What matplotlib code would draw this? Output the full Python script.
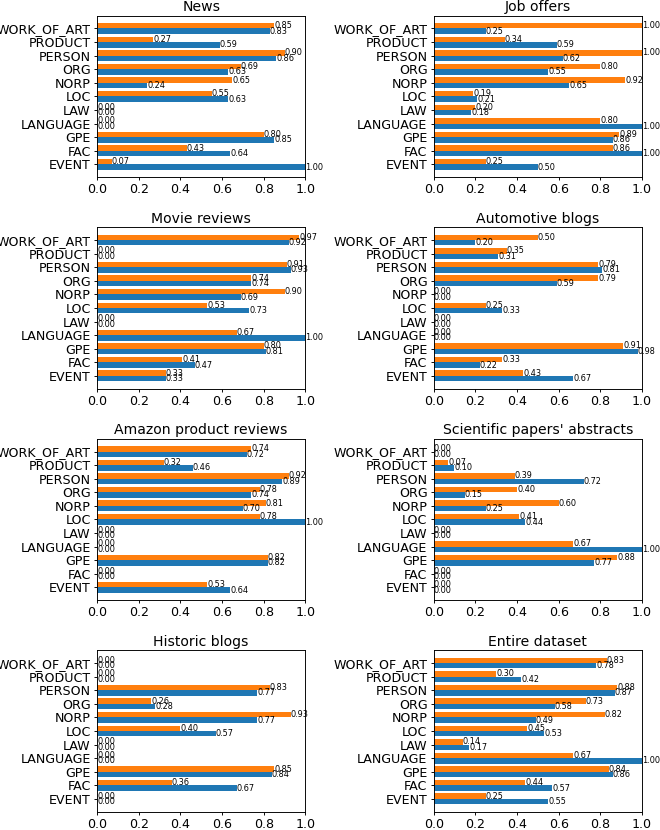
import numpy as np
import matplotlib
matplotlib.use("Agg")
import matplotlib.pyplot as plt

# entity types, bottom to top
labels = ['EVENT', 'FAC', 'GPE', 'LANGUAGE', 'LAW', 'LOC', 'NORP', 'ORG',
          'PERSON', 'PRODUCT', 'WORK_OF_ART']

titles = ['News', 'Job offers', 'Movie reviews', 'Automotive blogs',
          'Amazon product reviews', "Scientific papers' abstracts",
          'Historic blogs', 'Entire dataset']

# blue series
news_b = [1.00, 0.64, 0.85, 0.00, 0.00, 0.63, 0.24, 0.63, 0.86, 0.59, 0.83]
jobs_b = [0.50, 1.00, 0.86, 1.00, 0.18, 0.21, 0.65, 0.55, 0.62, 0.59, 0.25]
movie_b = [0.33, 0.47, 0.81, 1.00, 0.00, 0.73, 0.69, 0.74, 0.93, 0.00, 0.92]
auto_b = [0.67, 0.22, 0.98, 0.00, 0.00, 0.33, 0.00, 0.59, 0.81, 0.31, 0.20]
amazon_b = [0.64, 0.00, 0.82, 0.00, 0.00, 1.00, 0.70, 0.74, 0.89, 0.46, 0.72]
sci_b = [0.00, 0.00, 0.77, 1.00, 0.00, 0.44, 0.25, 0.15, 0.72, 0.10, 0.00]
hist_b = [0.00, 0.67, 0.84, 0.00, 0.00, 0.57, 0.77, 0.28, 0.77, 0.00, 0.00]
all_b = [0.55, 0.57, 0.86, 1.00, 0.17, 0.53, 0.49, 0.58, 0.87, 0.42, 0.78]

# orange series
news_o = [0.07, 0.43, 0.80, 0.00, 0.00, 0.55, 0.65, 0.69, 0.90, 0.27, 0.85]
jobs_o = [0.25, 0.86, 0.89, 0.80, 0.20, 0.19, 0.92, 0.80, 1.00, 0.34, 1.00]
movie_o = [0.33, 0.41, 0.80, 0.67, 0.00, 0.53, 0.90, 0.74, 0.91, 0.00, 0.97]
auto_o = [0.43, 0.33, 0.91, 0.00, 0.00, 0.25, 0.00, 0.79, 0.79, 0.35, 0.50]
amazon_o = [0.53, 0.00, 0.82, 0.00, 0.00, 0.78, 0.81, 0.78, 0.92, 0.32, 0.74]
sci_o = [0.00, 0.00, 0.88, 0.67, 0.00, 0.41, 0.60, 0.40, 0.39, 0.07, 0.00]
hist_o = [0.00, 0.36, 0.85, 0.00, 0.00, 0.40, 0.93, 0.26, 0.83, 0.00, 0.00]
all_o = [0.25, 0.44, 0.84, 0.67, 0.14, 0.45, 0.82, 0.73, 0.88, 0.30, 0.83]

blues = [news_b, jobs_b, movie_b, auto_b, amazon_b, sci_b, hist_b, all_b]
oranges = [news_o, jobs_o, movie_o, auto_o, amazon_o, sci_o, hist_o, all_o]

dpi = 84
fig, axes = plt.subplots(4, 2, figsize=(660/dpi, 830/dpi), dpi=dpi)
fig.subplots_adjust(left=97/660, right=642/660, top=1-15.7/830, bottom=1-811.7/830,
                    wspace=0.616, hspace=0.31)

y = np.arange(len(labels))
h = 0.4
for ax, t, b, o in zip(axes.flat, titles, blues, oranges):
    ax.barh(y - h/2, b, h, color='tab:blue')
    ax.barh(y + h/2, o, h, color='tab:orange')
    for i in range(len(labels)):
        ax.text(b[i], y[i] - h/2, '%.2f' % b[i], va='center', ha='left', fontsize=7)
        ax.text(o[i], y[i] + h/2, '%.2f' % o[i], va='center', ha='left', fontsize=7)
    ax.set_yticks(y)
    ax.set_yticklabels(labels)
    ax.set_xlim(0, 1)
    ax.tick_params(length=2.8, pad=2.5, labelsize=10.8)
    ax.set_title(t, pad=4)

fig.savefig('out.png', dpi=dpi)
